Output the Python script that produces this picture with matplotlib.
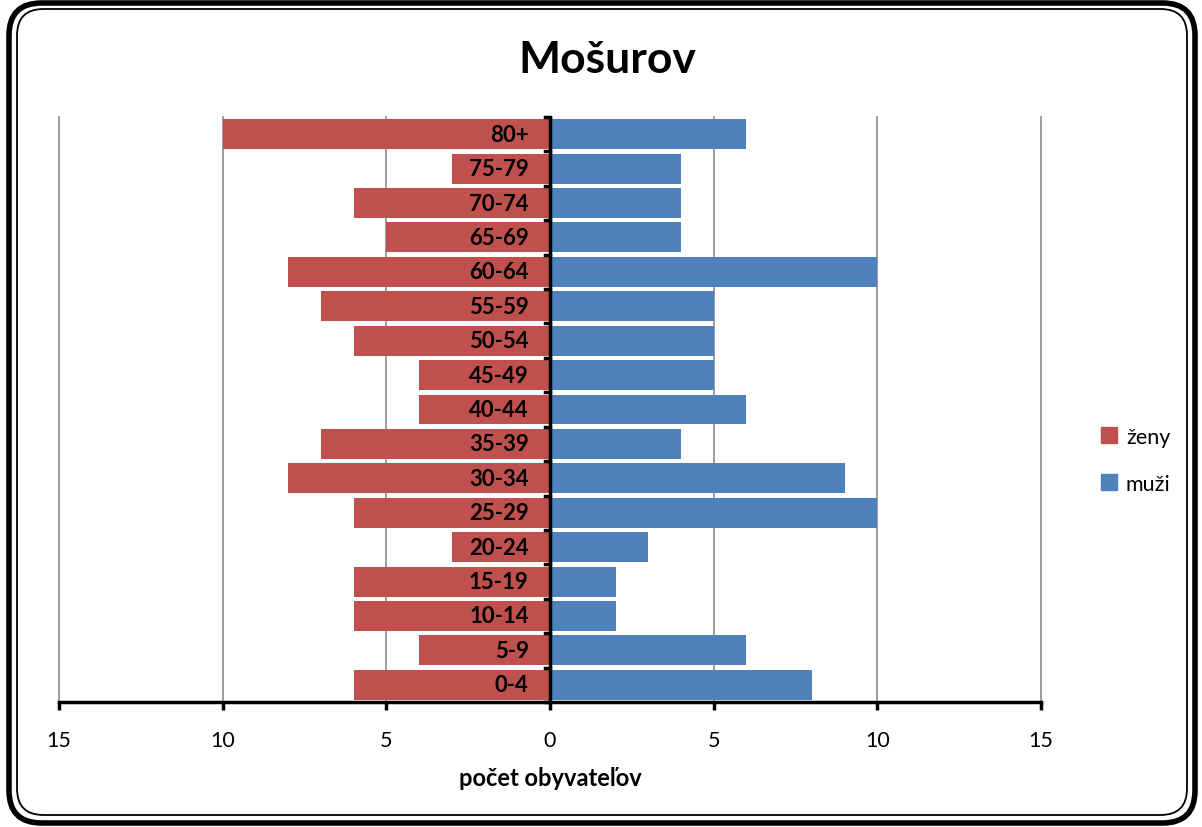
import matplotlib.pyplot as plt
from matplotlib.patches import FancyBboxPatch, Patch

plt.rcParams['font.family'] = ['Lato', 'DejaVu Sans']

ages = ['0-4', '5-9', '10-14', '15-19', '20-24', '25-29', '30-34', '35-39', '40-44',
        '45-49', '50-54', '55-59', '60-64', '65-69', '70-74', '75-79', '80+']
zeny = [6, 4, 6, 6, 3, 6, 8, 7, 4, 4, 6, 7, 8, 5, 6, 3, 10]
muzi = [8, 6, 2, 2, 3, 10, 9, 4, 6, 5, 5, 5, 10, 4, 4, 4, 6]

red = '#C0504D'
blue = '#4F81BD'

fig = plt.figure(figsize=(12.02, 8.28), dpi=100)
ax = fig.add_axes([0.0491, 0.151, 0.8170, 0.7065])

y = range(len(ages))
ax.barh(y, [-v for v in zeny], height=0.87, color=red, label='ženy', zorder=2)
ax.barh(y, muzi, height=0.87, color=blue, label='muži', zorder=2)

ax.set_xlim(-15, 15)
ax.set_ylim(-0.5, len(ages) - 0.5)
ax.set_xticks([-15, -10, -5, 0, 5, 10, 15])
ax.set_xticklabels(['15', '10', '5', '0', '5', '10', '15'], fontsize=15.5)
ax.tick_params(axis='x', direction='out', length=6, width=2.5, pad=14)
for x in [-15, -10, -5, 5, 10, 15]:
    ax.axvline(x, color='#8c8c8c', lw=1.2, zorder=1, clip_on=False)

ax.set_yticks([])

# category labels sit inside the bars, right next to the centre axis
for i, a in enumerate(ages):
    ax.text(-0.65, i, a, ha='right', va='center', fontsize=16, fontweight='bold', zorder=4)

ax.axvline(0, color='black', lw=2.5, zorder=3)
for i in range(len(ages) + 1):
    ax.plot([-0.15, 0], [i - 0.5, i - 0.5], color='black', lw=2.5, zorder=3, clip_on=False)

for s in ['top', 'right', 'left']:
    ax.spines[s].set_visible(False)
ax.spines['bottom'].set_linewidth(2.5)

ax.set_xlabel('počet obyvateľov', fontsize=17, fontweight='bold', labelpad=12)
fig.text(0.505, 0.927, 'Mošurov', ha='center', va='center', fontsize=32, fontweight='bold')

handles = [Patch(color=red, label='ženy'), Patch(color=blue, label='muži')]
fig.legend(handles=handles, loc='center left', bbox_to_anchor=(0.9, 0.443), frameon=False,
           fontsize=15.5, handlelength=0.75, handleheight=0.75, handletextpad=0.4, labelspacing=1.25)

# rounded double frame around the chart
fig.patches.append(FancyBboxPatch((9 / 1202, 4 / 828), 1186 / 1202, 820 / 828,
                                  boxstyle='round,pad=0,rounding_size=0.027',
                                  transform=fig.transFigure, fill=False, lw=4, ec='black',
                                  mutation_aspect=1202 / 828))
fig.patches.append(FancyBboxPatch((17 / 1202, 12 / 828), 1170 / 1202, 806 / 828,
                                  boxstyle='round,pad=0,rounding_size=0.022',
                                  transform=fig.transFigure, fill=False, lw=1.3, ec='black',
                                  mutation_aspect=1202 / 828))

fig.savefig('out.png', dpi=100)
